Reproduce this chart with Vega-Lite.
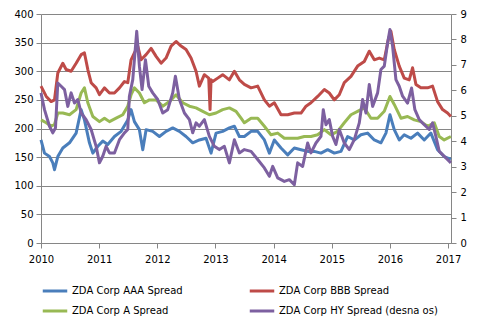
{
  "$schema": "https://vega.github.io/schema/vega-lite/v6.json",
  "width": 410,
  "height": 229,
  "autosize": "none",
  "padding": {"left": 41, "top": 14, "right": 44, "bottom": 92},
  "background": "white",
  "config": {
    "view": {"stroke": null},
    "font": "DejaVu Sans",
    "axis": {"labelFont": "DejaVu Sans", "labelFontSize": 10, "labelColor": "#000000", "domainColor": "#868686", "tickColor": "#868686", "gridColor": "#868686", "tickSize": 5}
  },
  "data": {"values": [
    {"s":"BBB","t":2010.00,"v":274},{"s":"BBB","t":2010.09,"v":256},{"s":"BBB","t":2010.175,"v":247},{"s":"BBB","t":2010.232,"v":250},{"s":"BBB","t":2010.289,"v":297},{"s":"BBB","t":2010.375,"v":314},{"s":"BBB","t":2010.432,"v":303},{"s":"BBB","t":2010.518,"v":300},{"s":"BBB","t":2010.604,"v":314},{"s":"BBB","t":2010.69,"v":329},{"s":"BBB","t":2010.747,"v":332},{"s":"BBB","t":2010.805,"v":303},{"s":"BBB","t":2010.862,"v":280},{"s":"BBB","t":2010.948,"v":271},{"s":"BBB","t":2011.005,"v":259},{"s":"BBB","t":2011.091,"v":271},{"s":"BBB","t":2011.177,"v":262},{"s":"BBB","t":2011.263,"v":262},{"s":"BBB","t":2011.349,"v":271},{"s":"BBB","t":2011.435,"v":282},{"s":"BBB","t":2011.492,"v":280},{"s":"BBB","t":2011.549,"v":320},{"s":"BBB","t":2011.606,"v":332},{"s":"BBB","t":2011.664,"v":344},{"s":"BBB","t":2011.721,"v":320},{"s":"BBB","t":2011.807,"v":329},{"s":"BBB","t":2011.893,"v":340},{"s":"BBB","t":2011.979,"v":326},{"s":"BBB","t":2012.065,"v":314},{"s":"BBB","t":2012.15,"v":323},{"s":"BBB","t":2012.237,"v":344},{"s":"BBB","t":2012.322,"v":352},{"s":"BBB","t":2012.408,"v":344},{"s":"BBB","t":2012.494,"v":338},{"s":"BBB","t":2012.58,"v":323},{"s":"BBB","t":2012.666,"v":300},{"s":"BBB","t":2012.723,"v":274},{"s":"BBB","t":2012.809,"v":294},{"s":"BBB","t":2012.884,"v":288},{"s":"BBB","t":2012.907,"v":233},{"s":"BBB","t":2012.924,"v":285},{"s":"BBB","t":2012.952,"v":282},{"s":"BBB","t":2013.038,"v":288},{"s":"BBB","t":2013.124,"v":294},{"s":"BBB","t":2013.239,"v":285},{"s":"BBB","t":2013.325,"v":300},{"s":"BBB","t":2013.411,"v":285},{"s":"BBB","t":2013.497,"v":277},{"s":"BBB","t":2013.612,"v":271},{"s":"BBB","t":2013.726,"v":274},{"s":"BBB","t":2013.841,"v":250},{"s":"BBB","t":2013.927,"v":239},{"s":"BBB","t":2014.012,"v":245},{"s":"BBB","t":2014.127,"v":224},{"s":"BBB","t":2014.242,"v":224},{"s":"BBB","t":2014.356,"v":227},{"s":"BBB","t":2014.471,"v":227},{"s":"BBB","t":2014.557,"v":239},{"s":"BBB","t":2014.642,"v":245},{"s":"BBB","t":2014.757,"v":256},{"s":"BBB","t":2014.872,"v":268},{"s":"BBB","t":2014.957,"v":262},{"s":"BBB","t":2015.043,"v":250},{"s":"BBB","t":2015.129,"v":259},{"s":"BBB","t":2015.215,"v":280},{"s":"BBB","t":2015.33,"v":291},{"s":"BBB","t":2015.444,"v":309},{"s":"BBB","t":2015.559,"v":317},{"s":"BBB","t":2015.645,"v":335},{"s":"BBB","t":2015.731,"v":320},{"s":"BBB","t":2015.817,"v":323},{"s":"BBB","t":2015.903,"v":320},{"s":"BBB","t":2015.971,"v":355},{"s":"BBB","t":2016.017,"v":370},{"s":"BBB","t":2016.074,"v":338},{"s":"BBB","t":2016.16,"v":309},{"s":"BBB","t":2016.246,"v":288},{"s":"BBB","t":2016.332,"v":285},{"s":"BBB","t":2016.389,"v":306},{"s":"BBB","t":2016.447,"v":277},{"s":"BBB","t":2016.532,"v":271},{"s":"BBB","t":2016.647,"v":271},{"s":"BBB","t":2016.733,"v":274},{"s":"BBB","t":2016.819,"v":247},{"s":"BBB","t":2016.905,"v":233},{"s":"BBB","t":2016.991,"v":227},{"s":"BBB","t":2017.048,"v":221},
    {"s":"A","t":2010.00,"v":215},{"s":"A","t":2010.09,"v":210},{"s":"A","t":2010.175,"v":204},{"s":"A","t":2010.232,"v":207},{"s":"A","t":2010.289,"v":227},{"s":"A","t":2010.375,"v":227},{"s":"A","t":2010.49,"v":224},{"s":"A","t":2010.604,"v":233},{"s":"A","t":2010.69,"v":262},{"s":"A","t":2010.747,"v":271},{"s":"A","t":2010.805,"v":245},{"s":"A","t":2010.891,"v":221},{"s":"A","t":2011.005,"v":212},{"s":"A","t":2011.091,"v":218},{"s":"A","t":2011.177,"v":212},{"s":"A","t":2011.292,"v":218},{"s":"A","t":2011.406,"v":224},{"s":"A","t":2011.492,"v":239},{"s":"A","t":2011.549,"v":259},{"s":"A","t":2011.606,"v":271},{"s":"A","t":2011.692,"v":262},{"s":"A","t":2011.778,"v":245},{"s":"A","t":2011.864,"v":250},{"s":"A","t":2011.979,"v":250},{"s":"A","t":2012.093,"v":239},{"s":"A","t":2012.208,"v":247},{"s":"A","t":2012.322,"v":259},{"s":"A","t":2012.437,"v":245},{"s":"A","t":2012.552,"v":239},{"s":"A","t":2012.666,"v":236},{"s":"A","t":2012.781,"v":230},{"s":"A","t":2012.895,"v":224},{"s":"A","t":2013.01,"v":227},{"s":"A","t":2013.124,"v":233},{"s":"A","t":2013.239,"v":236},{"s":"A","t":2013.354,"v":230},{"s":"A","t":2013.44,"v":218},{"s":"A","t":2013.497,"v":210},{"s":"A","t":2013.612,"v":218},{"s":"A","t":2013.726,"v":218},{"s":"A","t":2013.841,"v":204},{"s":"A","t":2013.955,"v":189},{"s":"A","t":2014.07,"v":192},{"s":"A","t":2014.184,"v":183},{"s":"A","t":2014.299,"v":183},{"s":"A","t":2014.413,"v":183},{"s":"A","t":2014.528,"v":186},{"s":"A","t":2014.642,"v":186},{"s":"A","t":2014.757,"v":189},{"s":"A","t":2014.872,"v":198},{"s":"A","t":2014.986,"v":189},{"s":"A","t":2015.1,"v":195},{"s":"A","t":2015.215,"v":210},{"s":"A","t":2015.33,"v":224},{"s":"A","t":2015.444,"v":230},{"s":"A","t":2015.559,"v":236},{"s":"A","t":2015.673,"v":218},{"s":"A","t":2015.788,"v":218},{"s":"A","t":2015.903,"v":230},{"s":"A","t":2016.0,"v":256},{"s":"A","t":2016.074,"v":242},{"s":"A","t":2016.189,"v":218},{"s":"A","t":2016.303,"v":221},{"s":"A","t":2016.418,"v":215},{"s":"A","t":2016.532,"v":212},{"s":"A","t":2016.647,"v":204},{"s":"A","t":2016.762,"v":210},{"s":"A","t":2016.848,"v":186},{"s":"A","t":2016.933,"v":180},{"s":"A","t":2017.048,"v":186},
    {"s":"AAA","t":2010.00,"v":180},{"s":"AAA","t":2010.06,"v":157},{"s":"AAA","t":2010.146,"v":151},{"s":"AAA","t":2010.203,"v":140},{"s":"AAA","t":2010.232,"v":128},{"s":"AAA","t":2010.289,"v":151},{"s":"AAA","t":2010.375,"v":166},{"s":"AAA","t":2010.49,"v":175},{"s":"AAA","t":2010.604,"v":192},{"s":"AAA","t":2010.69,"v":233},{"s":"AAA","t":2010.747,"v":215},{"s":"AAA","t":2010.833,"v":175},{"s":"AAA","t":2010.891,"v":157},{"s":"AAA","t":2010.977,"v":169},{"s":"AAA","t":2011.062,"v":178},{"s":"AAA","t":2011.148,"v":172},{"s":"AAA","t":2011.263,"v":186},{"s":"AAA","t":2011.378,"v":195},{"s":"AAA","t":2011.492,"v":215},{"s":"AAA","t":2011.549,"v":233},{"s":"AAA","t":2011.606,"v":212},{"s":"AAA","t":2011.692,"v":198},{"s":"AAA","t":2011.75,"v":163},{"s":"AAA","t":2011.807,"v":198},{"s":"AAA","t":2011.921,"v":195},{"s":"AAA","t":2012.036,"v":186},{"s":"AAA","t":2012.15,"v":195},{"s":"AAA","t":2012.265,"v":201},{"s":"AAA","t":2012.38,"v":195},{"s":"AAA","t":2012.494,"v":186},{"s":"AAA","t":2012.609,"v":175},{"s":"AAA","t":2012.723,"v":180},{"s":"AAA","t":2012.838,"v":183},{"s":"AAA","t":2012.924,"v":157},{"s":"AAA","t":2013.01,"v":192},{"s":"AAA","t":2013.124,"v":195},{"s":"AAA","t":2013.239,"v":201},{"s":"AAA","t":2013.325,"v":204},{"s":"AAA","t":2013.411,"v":186},{"s":"AAA","t":2013.497,"v":186},{"s":"AAA","t":2013.612,"v":195},{"s":"AAA","t":2013.726,"v":195},{"s":"AAA","t":2013.841,"v":180},{"s":"AAA","t":2013.927,"v":157},{"s":"AAA","t":2014.012,"v":180},{"s":"AAA","t":2014.127,"v":166},{"s":"AAA","t":2014.242,"v":154},{"s":"AAA","t":2014.356,"v":166},{"s":"AAA","t":2014.471,"v":163},{"s":"AAA","t":2014.585,"v":160},{"s":"AAA","t":2014.7,"v":160},{"s":"AAA","t":2014.814,"v":157},{"s":"AAA","t":2014.929,"v":163},{"s":"AAA","t":2015.043,"v":157},{"s":"AAA","t":2015.158,"v":160},{"s":"AAA","t":2015.272,"v":186},{"s":"AAA","t":2015.387,"v":180},{"s":"AAA","t":2015.502,"v":189},{"s":"AAA","t":2015.616,"v":192},{"s":"AAA","t":2015.731,"v":180},{"s":"AAA","t":2015.845,"v":175},{"s":"AAA","t":2015.931,"v":192},{"s":"AAA","t":2016.0,"v":224},{"s":"AAA","t":2016.074,"v":198},{"s":"AAA","t":2016.16,"v":180},{"s":"AAA","t":2016.246,"v":189},{"s":"AAA","t":2016.361,"v":183},{"s":"AAA","t":2016.475,"v":192},{"s":"AAA","t":2016.59,"v":180},{"s":"AAA","t":2016.704,"v":192},{"s":"AAA","t":2016.819,"v":163},{"s":"AAA","t":2016.933,"v":151},{"s":"AAA","t":2017.048,"v":146},
    {"s":"HY","t":2010.00,"v":5.9},{"s":"HY","t":2010.06,"v":5.24},{"s":"HY","t":2010.146,"v":4.59},{"s":"HY","t":2010.203,"v":4.33},{"s":"HY","t":2010.249,"v":4.52},{"s":"HY","t":2010.289,"v":6.29},{"s":"HY","t":2010.347,"v":6.16},{"s":"HY","t":2010.404,"v":6.03},{"s":"HY","t":2010.461,"v":5.37},{"s":"HY","t":2010.518,"v":5.9},{"s":"HY","t":2010.576,"v":5.5},{"s":"HY","t":2010.633,"v":5.64},{"s":"HY","t":2010.69,"v":5.11},{"s":"HY","t":2010.776,"v":4.85},{"s":"HY","t":2010.862,"v":4.46},{"s":"HY","t":2010.948,"v":3.8},{"s":"HY","t":2011.005,"v":3.15},{"s":"HY","t":2011.062,"v":3.41},{"s":"HY","t":2011.12,"v":3.8},{"s":"HY","t":2011.177,"v":3.54},{"s":"HY","t":2011.263,"v":3.54},{"s":"HY","t":2011.349,"v":4.06},{"s":"HY","t":2011.435,"v":4.33},{"s":"HY","t":2011.492,"v":4.46},{"s":"HY","t":2011.52,"v":5.77},{"s":"HY","t":2011.578,"v":6.42},{"s":"HY","t":2011.606,"v":7.2},{"s":"HY","t":2011.646,"v":8.32},{"s":"HY","t":2011.692,"v":6.95},{"s":"HY","t":2011.738,"v":6.03},{"s":"HY","t":2011.796,"v":7.2},{"s":"HY","t":2011.853,"v":6.16},{"s":"HY","t":2011.921,"v":5.9},{"s":"HY","t":2012.007,"v":5.64},{"s":"HY","t":2012.093,"v":5.11},{"s":"HY","t":2012.179,"v":5.24},{"s":"HY","t":2012.265,"v":5.9},{"s":"HY","t":2012.311,"v":6.55},{"s":"HY","t":2012.38,"v":5.64},{"s":"HY","t":2012.466,"v":5.11},{"s":"HY","t":2012.552,"v":4.85},{"s":"HY","t":2012.609,"v":4.33},{"s":"HY","t":2012.666,"v":4.72},{"s":"HY","t":2012.723,"v":4.59},{"s":"HY","t":2012.809,"v":4.85},{"s":"HY","t":2012.895,"v":4.19},{"s":"HY","t":2012.981,"v":3.8},{"s":"HY","t":2013.067,"v":3.67},{"s":"HY","t":2013.153,"v":3.8},{"s":"HY","t":2013.239,"v":3.15},{"s":"HY","t":2013.325,"v":4.06},{"s":"HY","t":2013.411,"v":3.54},{"s":"HY","t":2013.497,"v":3.67},{"s":"HY","t":2013.612,"v":3.6},{"s":"HY","t":2013.726,"v":3.28},{"s":"HY","t":2013.841,"v":2.95},{"s":"HY","t":2013.927,"v":2.62},{"s":"HY","t":2013.984,"v":3.01},{"s":"HY","t":2014.07,"v":2.56},{"s":"HY","t":2014.184,"v":2.42},{"s":"HY","t":2014.27,"v":2.49},{"s":"HY","t":2014.356,"v":2.29},{"s":"HY","t":2014.413,"v":3.15},{"s":"HY","t":2014.499,"v":3.01},{"s":"HY","t":2014.585,"v":3.93},{"s":"HY","t":2014.642,"v":3.54},{"s":"HY","t":2014.728,"v":3.93},{"s":"HY","t":2014.814,"v":4.19},{"s":"HY","t":2014.854,"v":5.24},{"s":"HY","t":2014.9,"v":4.65},{"s":"HY","t":2014.957,"v":4.85},{"s":"HY","t":2015.015,"v":4.19},{"s":"HY","t":2015.072,"v":3.87},{"s":"HY","t":2015.129,"v":4.46},{"s":"HY","t":2015.215,"v":3.93},{"s":"HY","t":2015.301,"v":3.67},{"s":"HY","t":2015.387,"v":4.06},{"s":"HY","t":2015.473,"v":4.72},{"s":"HY","t":2015.53,"v":5.64},{"s":"HY","t":2015.587,"v":5.11},{"s":"HY","t":2015.645,"v":6.23},{"s":"HY","t":2015.702,"v":5.37},{"s":"HY","t":2015.788,"v":5.9},{"s":"HY","t":2015.845,"v":6.82},{"s":"HY","t":2015.903,"v":6.95},{"s":"HY","t":2015.96,"v":7.86},{"s":"HY","t":2016.0,"v":8.39},{"s":"HY","t":2016.046,"v":7.73},{"s":"HY","t":2016.103,"v":6.42},{"s":"HY","t":2016.16,"v":6.16},{"s":"HY","t":2016.218,"v":5.77},{"s":"HY","t":2016.303,"v":5.5},{"s":"HY","t":2016.372,"v":6.09},{"s":"HY","t":2016.429,"v":5.24},{"s":"HY","t":2016.504,"v":4.85},{"s":"HY","t":2016.59,"v":4.65},{"s":"HY","t":2016.676,"v":4.46},{"s":"HY","t":2016.733,"v":4.72},{"s":"HY","t":2016.79,"v":4.19},{"s":"HY","t":2016.848,"v":3.6},{"s":"HY","t":2016.933,"v":3.41},{"s":"HY","t":2017.048,"v":3.15}
  ]},
  "encoding": {
    "x": {"field": "t", "type": "quantitative", "title": null,
      "scale": {"domain": [2010, 2017.05], "nice": false, "zero": false},
      "axis": {"values": [2010, 2011, 2012, 2013, 2014, 2015, 2016, 2017], "format": "d", "grid": false, "labelPadding": 6, "labelFlush": false}},
    "color": {"field": "s", "type": "nominal",
      "scale": {"domain": ["AAA", "BBB", "A", "HY"], "range": ["#4A7EBB", "#BE4B48", "#98B954", "#7D60A0"]},
      "legend": {"title": null, "orient": "none", "direction": "horizontal", "legendX": 0, "legendY": 263, "columns": 2, "columnPadding": 60, "rowPadding": 0, "symbolType": "stroke", "symbolSize": 600, "symbolStrokeWidth": 3, "labelFontSize": 10, "labelOffset": 3, "labelColor": "#000000", "labelExpr": "{'AAA':'ZDA Corp AAA Spread','BBB':'ZDA Corp BBB Spread','A':'ZDA Corp A Spread','HY':'ZDA Corp HY Spread (desna os)'}[datum.label]"}}
  },
  "layer": [
    {
      "transform": [{"filter": "datum.s != 'HY'"}],
      "mark": {"type": "line", "strokeWidth": 3, "strokeJoin": "round"},
      "encoding": {
        "y": {"field": "v", "type": "quantitative", "title": null,
          "scale": {"domain": [0, 400], "nice": false},
          "axis": {"orient": "left", "values": [0, 50, 100, 150, 200, 250, 300, 350, 400], "grid": true, "labelPadding": 3}}
      }
    },
    {
      "transform": [{"filter": "datum.s == 'HY'"}],
      "mark": {"type": "line", "strokeWidth": 3, "strokeJoin": "round"},
      "encoding": {
        "y": {"field": "v", "type": "quantitative", "title": null,
          "scale": {"domain": [0, 9], "nice": false},
          "axis": {"orient": "right", "values": [0, 1, 2, 3, 4, 5, 6, 7, 8, 9], "grid": false, "labelPadding": 4}}
      }
    }
  ],
  "resolve": {"scale": {"y": "independent"}}
}
